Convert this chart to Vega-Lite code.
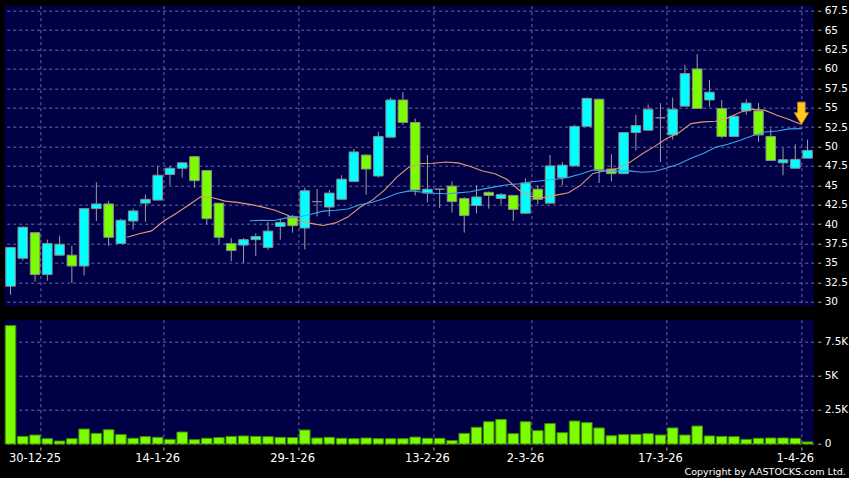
{
  "$schema": "https://vega.github.io/schema/vega-lite/v6.json",
  "background": "#000000",
  "padding": {"left": 4.4, "top": 5.7, "right": 0, "bottom": 0},
  "bounds": "flush",
  "spacing": 13,
  "title": {"text": "Copyright by AASTOCKS.com Ltd.", "orient": "bottom", "anchor": "end", "frame": "bounds", "font": "DejaVu Sans", "fontSize": 9.6, "fontWeight": "normal", "color": "#ffffff", "offset": 3, "dx": -2},
  "config": {
    "view": {"fill": "#000046", "stroke": null},
    "axis": {"labelColor": "#ffffff", "labelFont": "DejaVu Sans", "tickColor": "#bbbbbb", "gridColor": "#6b6ba8", "gridDash": [3, 3], "gridWidth": 1, "domain": false, "title": null, "labelOverlap": false}
  },
  "datasets": {
    "prices": [
      {"date": "2025-12-24", "open": 32.0, "high": 37.0, "low": 30.9, "close": 37.0, "volume": 8700, "ma10": null, "ma20": null},
      {"date": "2025-12-29", "open": 35.6, "high": 39.7, "low": 35.3, "close": 39.6, "volume": 560, "ma10": null, "ma20": null},
      {"date": "2025-12-30", "open": 38.9, "high": 38.9, "low": 32.6, "close": 33.5, "volume": 660, "ma10": null, "ma20": null},
      {"date": "2025-12-31", "open": 33.5, "high": 38.0, "low": 32.7, "close": 37.5, "volume": 390, "ma10": null, "ma20": null},
      {"date": "2026-01-02", "open": 36.0, "high": 38.5, "low": 36.0, "close": 37.4, "volume": 220, "ma10": null, "ma20": null},
      {"date": "2026-01-05", "open": 36.0, "high": 37.2, "low": 32.4, "close": 34.6, "volume": 390, "ma10": null, "ma20": null},
      {"date": "2026-01-06", "open": 34.6, "high": 42.0, "low": 33.4, "close": 42.0, "volume": 1100, "ma10": null, "ma20": null},
      {"date": "2026-01-07", "open": 42.0, "high": 45.4, "low": 40.4, "close": 42.6, "volume": 780, "ma10": null, "ma20": null},
      {"date": "2026-01-08", "open": 42.6, "high": 43.0, "low": 37.2, "close": 38.3, "volume": 1050, "ma10": null, "ma20": null},
      {"date": "2026-01-09", "open": 37.5, "high": 40.7, "low": 37.5, "close": 40.5, "volume": 690, "ma10": 38.30, "ma20": null},
      {"date": "2026-01-12", "open": 40.4, "high": 42.0, "low": 39.3, "close": 41.7, "volume": 420, "ma10": 38.77, "ma20": null},
      {"date": "2026-01-13", "open": 42.7, "high": 43.8, "low": 40.3, "close": 43.2, "volume": 540, "ma10": 39.13, "ma20": null},
      {"date": "2026-01-14", "open": 43.1, "high": 47.5, "low": 43.1, "close": 46.3, "volume": 490, "ma10": 40.41, "ma20": null},
      {"date": "2026-01-15", "open": 46.4, "high": 47.5, "low": 45.0, "close": 47.2, "volume": 340, "ma10": 41.38, "ma20": null},
      {"date": "2026-01-16", "open": 47.2, "high": 48.0, "low": 46.0, "close": 47.9, "volume": 880, "ma10": 42.43, "ma20": null},
      {"date": "2026-01-19", "open": 48.7, "high": 48.7, "low": 44.7, "close": 45.6, "volume": 320, "ma10": 43.53, "ma20": null},
      {"date": "2026-01-20", "open": 46.9, "high": 46.9, "low": 40.0, "close": 40.7, "volume": 420, "ma10": 43.40, "ma20": null},
      {"date": "2026-01-21", "open": 42.7, "high": 42.7, "low": 37.5, "close": 38.3, "volume": 470, "ma10": 42.97, "ma20": null},
      {"date": "2026-01-22", "open": 37.5, "high": 38.2, "low": 35.2, "close": 36.6, "volume": 560, "ma10": 42.80, "ma20": null},
      {"date": "2026-01-23", "open": 37.3, "high": 38.2, "low": 35.0, "close": 38.0, "volume": 590, "ma10": 42.55, "ma20": 40.43},
      {"date": "2026-01-26", "open": 38.0, "high": 38.8, "low": 35.9, "close": 38.4, "volume": 560, "ma10": 42.22, "ma20": 40.50},
      {"date": "2026-01-27", "open": 37.0, "high": 40.3, "low": 36.7, "close": 39.1, "volume": 540, "ma10": 41.81, "ma20": 40.47},
      {"date": "2026-01-28", "open": 39.7, "high": 40.7, "low": 38.0, "close": 40.2, "volume": 490, "ma10": 41.20, "ma20": 40.81},
      {"date": "2026-01-29", "open": 41.0, "high": 41.2, "low": 38.9, "close": 39.8, "volume": 470, "ma10": 40.46, "ma20": 40.92},
      {"date": "2026-01-30", "open": 39.5, "high": 44.7, "low": 36.75, "close": 44.3, "volume": 1030, "ma10": 40.10, "ma20": 41.27},
      {"date": "2026-02-02", "open": 42.9, "high": 44.5, "low": 41.0, "close": 42.9, "volume": 440, "ma10": 39.83, "ma20": 41.68},
      {"date": "2026-02-03", "open": 42.2, "high": 44.4, "low": 41.0, "close": 44.0, "volume": 490, "ma10": 40.16, "ma20": 41.78},
      {"date": "2026-02-04", "open": 43.2, "high": 46.3, "low": 43.2, "close": 45.8, "volume": 420, "ma10": 40.91, "ma20": 41.94},
      {"date": "2026-02-05", "open": 45.5, "high": 49.7, "low": 45.5, "close": 49.3, "volume": 390, "ma10": 42.18, "ma20": 42.49},
      {"date": "2026-02-06", "open": 48.9, "high": 49.0, "low": 43.8, "close": 47.1, "volume": 440, "ma10": 43.09, "ma20": 42.82},
      {"date": "2026-02-09", "open": 46.2, "high": 51.9, "low": 46.0, "close": 51.3, "volume": 390, "ma10": 44.38, "ma20": 43.30},
      {"date": "2026-02-10", "open": 51.2, "high": 56.3, "low": 51.2, "close": 56.0, "volume": 390, "ma10": 46.07, "ma20": 43.94},
      {"date": "2026-02-11", "open": 56.0, "high": 57.0, "low": 52.8, "close": 53.1, "volume": 390, "ma10": 47.36, "ma20": 44.28},
      {"date": "2026-02-12", "open": 53.1, "high": 53.6, "low": 43.7, "close": 44.4, "volume": 510, "ma10": 47.82, "ma20": 44.14},
      {"date": "2026-02-13", "open": 44.0, "high": 48.9, "low": 42.8, "close": 44.5, "volume": 420, "ma10": 47.84, "ma20": 43.97},
      {"date": "2026-02-16", "open": 44.5, "high": 44.6, "low": 42.1, "close": 44.5, "volume": 420, "ma10": 48.00, "ma20": 43.92},
      {"date": "2026-02-20", "open": 44.9, "high": 45.5, "low": 41.5, "close": 42.9, "volume": 250, "ma10": 47.89, "ma20": 44.03},
      {"date": "2026-02-23", "open": 43.3, "high": 43.5, "low": 38.9, "close": 41.1, "volume": 780, "ma10": 47.42, "ma20": 44.17},
      {"date": "2026-02-24", "open": 42.4, "high": 45.0, "low": 41.4, "close": 43.5, "volume": 1230, "ma10": 46.84, "ma20": 44.51},
      {"date": "2026-02-25", "open": 44.1, "high": 44.2, "low": 42.0, "close": 43.7, "volume": 1640, "ma10": 46.50, "ma20": 44.80},
      {"date": "2026-02-26", "open": 43.3, "high": 44.0, "low": 42.6, "close": 43.8, "volume": 1810, "ma10": 45.75, "ma20": 45.07},
      {"date": "2026-02-27", "open": 43.7, "high": 43.7, "low": 40.4, "close": 41.9, "volume": 760, "ma10": 44.34, "ma20": 45.21},
      {"date": "2026-03-02", "open": 41.4, "high": 45.9, "low": 41.3, "close": 45.3, "volume": 1640, "ma10": 43.56, "ma20": 45.46},
      {"date": "2026-03-03", "open": 44.5, "high": 45.0, "low": 42.6, "close": 43.2, "volume": 980, "ma10": 43.44, "ma20": 45.63},
      {"date": "2026-03-04", "open": 42.7, "high": 48.9, "low": 42.7, "close": 47.5, "volume": 1500, "ma10": 43.74, "ma20": 45.79},
      {"date": "2026-03-05", "open": 46.0, "high": 48.0, "low": 45.0, "close": 47.6, "volume": 830, "ma10": 44.05, "ma20": 46.03},
      {"date": "2026-03-06", "open": 47.5, "high": 52.8, "low": 47.5, "close": 52.6, "volume": 1690, "ma10": 45.02, "ma20": 46.46},
      {"date": "2026-03-09", "open": 52.6, "high": 56.3, "low": 52.6, "close": 56.2, "volume": 1570, "ma10": 46.53, "ma20": 46.98},
      {"date": "2026-03-10", "open": 56.1, "high": 56.1, "low": 45.3, "close": 47.0, "volume": 1180, "ma10": 46.88, "ma20": 46.86},
      {"date": "2026-03-11", "open": 47.1, "high": 49.0, "low": 45.5, "close": 46.5, "volume": 610, "ma10": 47.16, "ma20": 46.83},
      {"date": "2026-03-12", "open": 46.5, "high": 51.8, "low": 46.5, "close": 51.8, "volume": 690, "ma10": 47.96, "ma20": 46.86},
      {"date": "2026-03-13", "open": 51.8, "high": 54.1, "low": 49.5, "close": 52.7, "volume": 710, "ma10": 49.04, "ma20": 46.69},
      {"date": "2026-03-16", "open": 52.1, "high": 55.4, "low": 52.1, "close": 54.8, "volume": 760, "ma10": 49.99, "ma20": 46.78},
      {"date": "2026-03-17", "open": 53.7, "high": 55.6, "low": 48.0, "close": 53.7, "volume": 660, "ma10": 51.04, "ma20": 47.24},
      {"date": "2026-03-18", "open": 51.5, "high": 56.3, "low": 50.9, "close": 54.8, "volume": 1180, "ma10": 51.77, "ma20": 47.76},
      {"date": "2026-03-19", "open": 55.2, "high": 60.5, "low": 55.2, "close": 59.4, "volume": 660, "ma10": 52.95, "ma20": 48.50},
      {"date": "2026-03-20", "open": 60.0, "high": 61.9, "low": 54.9, "close": 54.9, "volume": 1320, "ma10": 53.18, "ma20": 49.10},
      {"date": "2026-03-23", "open": 56.0, "high": 58.6, "low": 55.1, "close": 57.0, "volume": 590, "ma10": 53.26, "ma20": 49.90},
      {"date": "2026-03-24", "open": 54.9, "high": 56.0, "low": 51.05, "close": 51.3, "volume": 560, "ma10": 53.69, "ma20": 50.29},
      {"date": "2026-03-25", "open": 51.3, "high": 54.1, "low": 51.3, "close": 53.9, "volume": 540, "ma10": 54.43, "ma20": 50.80},
      {"date": "2026-03-26", "open": 54.6, "high": 56.1, "low": 54.1, "close": 55.6, "volume": 340, "ma10": 54.81, "ma20": 51.39},
      {"date": "2026-03-27", "open": 54.6, "high": 55.6, "low": 50.6, "close": 51.5, "volume": 420, "ma10": 54.69, "ma20": 51.87},
      {"date": "2026-03-30", "open": 51.3, "high": 52.3, "low": 48.2, "close": 48.2, "volume": 440, "ma10": 54.03, "ma20": 52.01},
      {"date": "2026-03-31", "open": 47.9, "high": 49.8, "low": 46.3, "close": 48.3, "volume": 440, "ma10": 53.49, "ma20": 52.27},
      {"date": "2026-04-01", "open": 47.2, "high": 50.3, "low": 47.2, "close": 48.35, "volume": 420, "ma10": 52.85, "ma20": 52.31},
      {"date": "2026-04-02", "open": 48.5, "high": 50.9, "low": 48.5, "close": 49.5, "volume": 150, "ma10": null, "ma20": null}
    ]
  },
  "vconcat": [
    {
      "width": 809.3,
      "height": 300.3,
      "data": {"name": "prices"},
      "encoding": {
        "x": {
          "field": "date", "type": "ordinal",
          "scale": {"paddingInner": 0, "paddingOuter": 0},
          "axis": {"orient": "bottom", "values": ["2025-12-30", "2026-01-14", "2026-01-29", "2026-02-13", "2026-03-02", "2026-03-17", "2026-04-01"], "bandPosition": 1, "grid": true, "labels": false, "ticks": false}
        }
      },
      "layer": [
        {
          "mark": {"type": "rule", "color": "#a0a0a0", "strokeWidth": 1},
          "encoding": {
            "y": {"field": "low", "type": "quantitative", "scale": {"domain": [29.45, 68.15], "nice": false, "zero": false},
              "axis": {"orient": "right", "values": [30, 32.5, 35, 37.5, 40, 42.5, 45, 47.5, 50, 52.5, 55, 57.5, 60, 62.5, 65, 67.5], "format": ".1~f", "grid": true, "tickSize": 3, "offset": 4, "labelPadding": 3.5, "labelFontSize": 10.5, "labelOverlap": false}},
            "y2": {"field": "high"}
          }
        },
        {
          "mark": {"type": "bar", "width": {"band": 0.78}, "stroke": "#8c8c8c", "strokeWidth": 1},
          "encoding": {
            "y": {"field": "open", "type": "quantitative",
              "axis": {"orient": "right", "values": [30, 32.5, 35, 37.5, 40, 42.5, 45, 47.5, 50, 52.5, 55, 57.5, 60, 62.5, 65, 67.5], "format": ".1~f", "grid": true, "tickSize": 3, "offset": 4, "labelPadding": 3.5, "labelFontSize": 10.5, "labelOverlap": false}},
            "y2": {"field": "close"},
            "color": {"condition": {"test": "datum.close > datum.open", "value": "#00FFFF"}, "value": "#7CFC00"}
          }
        },
        {
          "mark": {"type": "line", "color": "#E09A72", "strokeWidth": 1.1},
          "encoding": {
            "x": {"field": "date", "type": "ordinal", "bandPosition": 1},
            "y": {"field": "ma10", "type": "quantitative",
              "axis": {"orient": "right", "values": [30, 32.5, 35, 37.5, 40, 42.5, 45, 47.5, 50, 52.5, 55, 57.5, 60, 62.5, 65, 67.5], "format": ".1~f", "grid": true, "tickSize": 3, "offset": 4, "labelPadding": 3.5, "labelFontSize": 10.5, "labelOverlap": false}}
          }
        },
        {
          "mark": {"type": "line", "color": "#3FA2E6", "strokeWidth": 1.1},
          "encoding": {
            "x": {"field": "date", "type": "ordinal", "bandPosition": 1},
            "y": {"field": "ma20", "type": "quantitative",
              "axis": {"orient": "right", "values": [30, 32.5, 35, 37.5, 40, 42.5, 45, 47.5, 50, 52.5, 55, 57.5, 60, 62.5, 65, 67.5], "format": ".1~f", "grid": true, "tickSize": 3, "offset": 4, "labelPadding": 3.5, "labelFontSize": 10.5, "labelOverlap": false}}
          }
        },
        {
          "transform": [{"filter": "datum.date == '2026-04-01'"}],
          "mark": {"type": "point", "shape": "M-0.33,-2L0.33,-2L0.33,-1.04L0.63,-1.04L0,0L-0.63,-1.04L-0.33,-1.04Z", "size": 497, "filled": true, "color": "#FFCC22", "stroke": "#E08C00", "strokeWidth": 1, "opacity": 1},
          "encoding": {
            "x": {"field": "date", "type": "ordinal", "bandPosition": 1},
            "y": {"field": "ma10", "type": "quantitative",
              "axis": {"orient": "right", "values": [30, 32.5, 35, 37.5, 40, 42.5, 45, 47.5, 50, 52.5, 55, 57.5, 60, 62.5, 65, 67.5], "format": ".1~f", "grid": true, "tickSize": 3, "offset": 4, "labelPadding": 3.5, "labelFontSize": 10.5, "labelOverlap": false}}
          }
        }
      ]
    },
    {
      "width": 809.3,
      "height": 124.3,
      "data": {"name": "prices"},
      "mark": {"type": "bar", "width": {"band": 0.86}, "fill": "#7CFC00", "stroke": "#3E8E00", "strokeWidth": 1},
      "encoding": {
        "x": {
          "field": "date", "type": "ordinal",
          "scale": {"paddingInner": 0, "paddingOuter": 0},
          "axis": {"orient": "bottom", "values": ["2025-12-30", "2026-01-14", "2026-01-29", "2026-02-13", "2026-03-02", "2026-03-17", "2026-04-01"], "bandPosition": 1, "labelExpr": "utcFormat(toDate(datum.value), '%-d-%-m-%y')", "labelAngle": 0, "grid": true, "ticks": true, "tickSize": 3, "offset": 3, "labelFontSize": 11.5, "labelPadding": 3}
        },
        "y": {
          "field": "volume", "type": "quantitative",
          "scale": {"domain": [0, 9136], "nice": false},
          "axis": {"orient": "right", "values": [0, 2500, 5000, 7500], "labelExpr": "datum.value == 0 ? '0' : format(datum.value / 1000, '~g') + 'K'", "grid": true, "tickSize": 3, "offset": 4, "labelPadding": 3.5, "labelFontSize": 10.5}
        }
      }
    }
  ]
}
